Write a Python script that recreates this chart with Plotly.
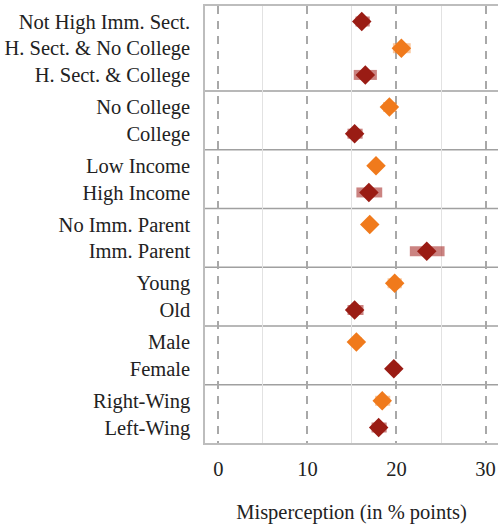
import plotly.graph_objects as go

# ---- data ----
groups = [
    ["Not High Imm. Sect.", "H. Sect. & No College", "H. Sect. & College"],
    ["No College", "College"],
    ["Low Income", "High Income"],
    ["No Imm. Parent", "Imm. Parent"],
    ["Young", "Old"],
    ["Male", "Female"],
    ["Right-Wing", "Left-Wing"],
]
values = [16.1, 20.55, 16.5, 19.2, 15.3, 17.7, 16.9, 17.0, 23.4, 19.8, 15.3, 15.5, 19.7, 18.4, 18.0]
ci_low = [15.4, 19.6, 15.2, 18.5, 14.5, 17.3, 15.5, 16.6, 21.5, 19.0, 14.5, 15.0, 19.2, 17.6, 17.2]
ci_high = [17.0, 21.6, 17.8, 20.0, 16.2, 18.1, 18.4, 17.4, 25.4, 20.6, 16.3, 16.1, 20.3, 19.3, 18.9]
kind = [1, 0, 1, 0, 1, 0, 1, 0, 1, 0, 1, 0, 1, 0, 1]  # 0 = orange, 1 = dark red
x_ticks = [0, 10, 20, 30]
x_minor = [5, 15, 25]

# ---- positions from group structure ----
GAP = 1.2
labels, ypos, seps = [], [], []
y = 0.0
for gi, g in enumerate(groups):
    if gi > 0:
        y += GAP - 1
        seps.append(y - GAP / 2)
    for lab in g:
        labels.append(lab)
        ypos.append(y)
        y += 1
y_last = ypos[-1]

FONT = "Liberation Serif"
marker_col = {0: "#F07A1C", 1: "#9A1C14"}
bar_col = {0: "rgba(244,130,40,0.45)", 1: "rgba(160,30,25,0.55)"}

fig = go.Figure()
for k in (0, 1):
    idx = [i for i in range(len(values)) if kind[i] == k]
    fig.add_trace(go.Scatter(
        x=[values[i] for i in idx],
        y=[ypos[i] for i in idx],
        mode="markers",
        marker=dict(symbol="diamond", size=15, color=marker_col[k], line=dict(width=0)),
        error_x=dict(type="data", symmetric=False,
                     array=[ci_high[i] - values[i] for i in idx],
                     arrayminus=[values[i] - ci_low[i] for i in idx],
                     color=bar_col[k], thickness=10, width=0),
        showlegend=False,
    ))

for s in seps:
    fig.add_shape(type="line", xref="paper", x0=0, x1=1, y0=s, y1=s,
                  line=dict(color="#a0a0a0", width=1.5), layer="below")

fig.update_layout(
    width=498, height=524,
    margin=dict(l=205, r=0, t=6, b=81),
    plot_bgcolor="white", paper_bgcolor="white",
    font=dict(family=FONT, size=20.5, color="#222"),
    xaxis=dict(
        range=[-1.5, 31.4], tickmode="array", tickvals=x_ticks,
        showgrid=True, gridcolor="#a8a8a8", gridwidth=1.5, griddash="8px,7px",
        minor=dict(tickmode="array", tickvals=x_minor, showgrid=True,
                   gridcolor="#e2e2e2", gridwidth=1, griddash="solid"),
        showline=True, linecolor="#bdbdbd", linewidth=1.5, mirror=True,
        ticks="outside", ticklen=7, tickcolor="rgba(0,0,0,0)",
        zeroline=False,
        title=dict(text="Misperception (in % points)", standoff=28,
                   font=dict(family=FONT, size=20.5)),
    ),
    yaxis=dict(
        range=[y_last + 0.58, -0.58], tickvals=ypos, ticktext=labels,
        showgrid=False, zeroline=False,
        showline=True, linecolor="#bdbdbd", linewidth=1.5, mirror=False,
        ticks="outside", ticklen=9, tickcolor="rgba(0,0,0,0)",
    ),
)

fig.write_html(
    "out.html", config={"displayModeBar": False},
    post_script=("document.body.style.margin='0';"
                 "document.body.style.overflow='hidden';"
                 "document.documentElement.style.overflow='hidden';"),
)
